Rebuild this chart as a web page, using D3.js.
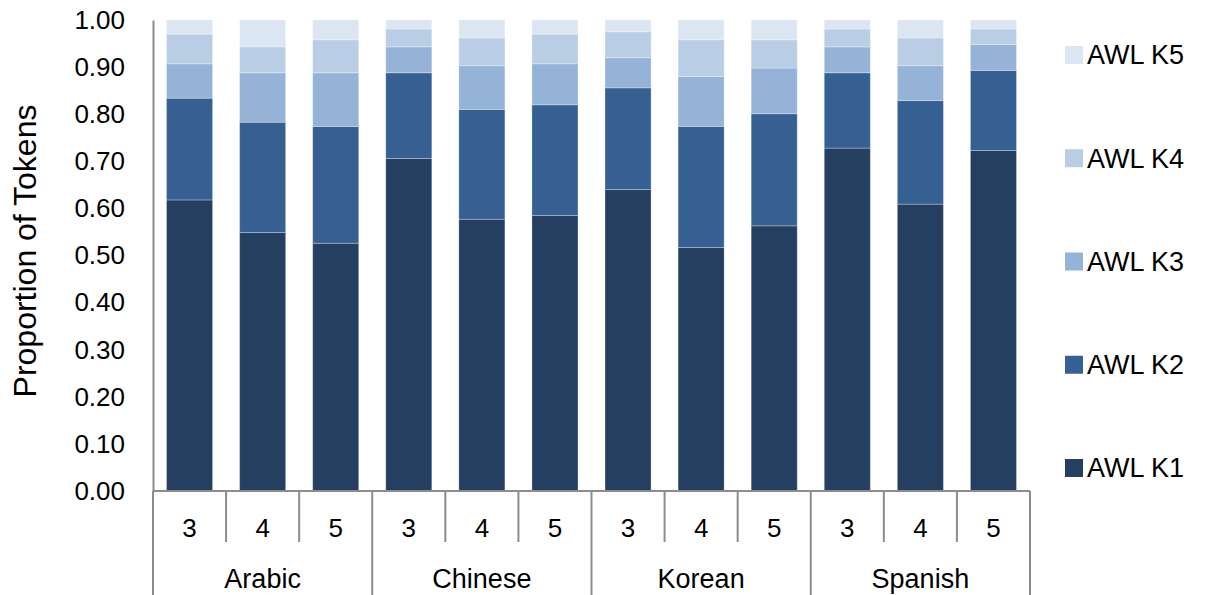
<!DOCTYPE html>
<html>
<head>
<meta charset="utf-8">
<script src="https://cdn.jsdelivr.net/npm/d3@7"></script>
<style>
  html, body { margin: 0; padding: 0; background: #ffffff; }
  svg { display: block; font-family: "Liberation Sans", Arial, sans-serif; }
</style>
</head>
<body>
<svg id="chart" width="1206" height="595"></svg>
<script>
// ---- data ----
const languages = ["Arabic", "Chinese", "Korean", "Spanish"];
const levels = ["3", "4", "5"];
const seriesNames = ["AWL K1", "AWL K2", "AWL K3", "AWL K4", "AWL K5"];
// values in order: Arabic 3,4,5, Chinese 3,4,5, Korean 3,4,5, Spanish 3,4,5
const k1 = [0.618, 0.549, 0.526, 0.706, 0.577, 0.585, 0.640, 0.517, 0.563, 0.728, 0.609, 0.723];
const k2 = [0.216, 0.234, 0.248, 0.182, 0.233, 0.235, 0.216, 0.257, 0.238, 0.160, 0.220, 0.170];
const k3 = [0.073, 0.105, 0.114, 0.055, 0.093, 0.087, 0.064, 0.106, 0.097, 0.055, 0.074, 0.055];
const k4 = [0.063, 0.055, 0.070, 0.038, 0.059, 0.063, 0.055, 0.078, 0.060, 0.038, 0.059, 0.033];
const k5 = [0.030, 0.057, 0.042, 0.019, 0.038, 0.030, 0.025, 0.042, 0.042, 0.019, 0.038, 0.019];
const yTicks = [0, 0.1, 0.2, 0.3, 0.4, 0.5, 0.6, 0.7, 0.8, 0.9, 1.0];
const colors = ["#253f61", "#366092", "#95b3d7", "#b9cde5", "#dce6f2"];

(function () {
// ---- build table ----
const seriesVals = [k1, k2, k3, k4, k5];
const rows = [];
languages.forEach((lang, li) => {
  levels.forEach((lev, vi) => {
    const i = li * levels.length + vi;
    const r = { lang, lev };
    seriesNames.forEach((s, si) => r[s] = seriesVals[si][i]);
    rows.push(r);
  });
});

const svg = d3.select("#chart");
const mLeft = 153, mRight = 1030, mTop = 20, mBottom = 491;

const x0 = d3.scaleBand().domain(languages).range([mLeft, mRight]).padding(0);
const x1 = d3.scaleBand().domain(levels).range([0, x0.bandwidth()]).paddingInner(0.37).paddingOuter(0.185);
const y = d3.scaleLinear().domain([0, 1]).range([mBottom, mTop]);
const color = d3.scaleOrdinal().domain(seriesNames).range(colors);

const stacked = d3.stack().keys(seriesNames)(rows);

// bars
svg.append("g").selectAll("g.series").data(stacked).join("g")
  .attr("class", "series")
  .attr("fill", d => color(d.key))
  .selectAll("rect").data(d => d).join("rect")
  .attr("x", d => x0(d.data.lang) + x1(d.data.lev))
  .attr("width", x1.bandwidth())
  .attr("y", d => y(d[1]))
  .attr("height", d => y(d[0]) - y(d[1]))
  .attr("stroke", "rgba(255,255,255,0.28)")
  .attr("stroke-width", 1);

// y axis
const yAxis = d3.axisLeft(y).tickValues(yTicks).tickSize(0).tickPadding(28).tickFormat(d3.format(".2f"));
const ya = svg.append("g").attr("transform", `translate(${mLeft},0)`).call(yAxis);
ya.select(".domain").attr("stroke", "#8c8c8c").attr("stroke-width", 2);
ya.selectAll("text").attr("font-size", 26).attr("fill", "#000")
  .attr("font-family", "'Liberation Sans', Arial, sans-serif");

// x axis baseline
svg.append("line").attr("x1", mLeft).attr("x2", mRight).attr("y1", mBottom).attr("y2", mBottom)
  .attr("stroke", "#8c8c8c").attr("stroke-width", 2);

// sub-category labels
const axisG = svg.append("g");
rows.forEach(r => {
  const center = x0(r.lang) + x1(r.lev) + x1.bandwidth() / 2;
  axisG.append("text").attr("x", center).attr("y", 528).attr("dy", "0.35em")
    .attr("text-anchor", "middle").attr("font-size", 26).text(r.lev);
});
// sub-category separators
languages.forEach(lang => {
  levels.forEach((lev, vi) => {
    if (vi > 0) {
      const xs = x0(lang) + x1(lev) - x1.step() * x1.paddingInner() / 2;
      axisG.append("line").attr("x1", xs).attr("x2", xs).attr("y1", mBottom).attr("y2", 542)
        .attr("stroke", "#8c8c8c").attr("stroke-width", 2);
    }
  });
});
// group separators
languages.concat([null]).forEach(lang => {
  const xs = lang ? x0(lang) : mRight;
  axisG.append("line").attr("x1", xs).attr("x2", xs).attr("y1", mBottom).attr("y2", 595)
    .attr("stroke", "#8c8c8c").attr("stroke-width", 2);
});
languages.forEach(lang => {
  axisG.append("text").attr("x", x0(lang) + x0.bandwidth() / 2).attr("y", 579).attr("dy", "0.35em")
    .attr("text-anchor", "middle").attr("font-size", 27).text(lang);
});

// y title
svg.append("text")
  .attr("transform", `translate(25,251) rotate(-90)`)
  .attr("text-anchor", "middle").attr("dy", "0.35em")
  .attr("font-size", 32).text("Proportion of Tokens");

// legend
const legendOrder = seriesNames.slice().reverse();
const ly = d3.scalePoint().domain(legendOrder).range([55, 468]);
const lg = svg.append("g").selectAll("g").data(legendOrder).join("g")
  .attr("transform", d => `translate(1065,${ly(d)})`);
lg.append("rect").attr("x", 0).attr("y", -9).attr("width", 18).attr("height", 18).attr("fill", d => color(d));
lg.append("text").attr("x", 22).attr("dy", "0.35em").attr("font-size", 27).text(d => d);
})();
</script>
</body>
</html>
